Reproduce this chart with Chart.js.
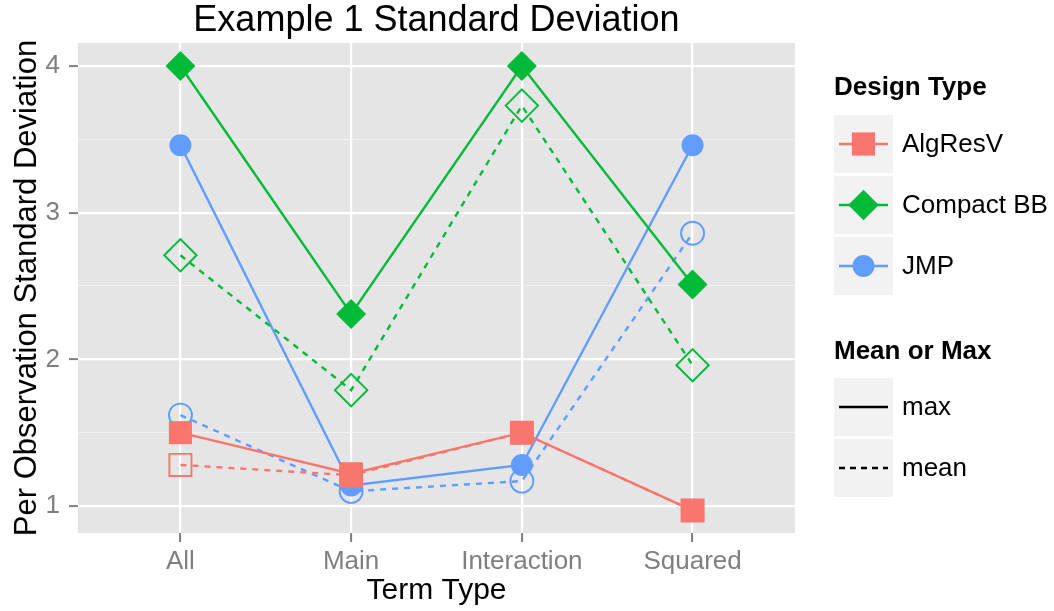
<!DOCTYPE html>
<html>
<head>
<meta charset="utf-8">
<title>Example 1 Standard Deviation</title>
<script src="https://cdn.jsdelivr.net/npm/chart.js@4.4.1/dist/chart.umd.min.js"></script>
<style>
  html, body { margin: 0; padding: 0; background: #ffffff; }
  #wrap { width: 1054px; height: 611px; }
</style>
</head>
<body>
<div id="wrap"><canvas id="chart" width="1054" height="611"></canvas></div>
<script>
const termTypes = ["All", "Main", "Interaction", "Squared"];
const yTicks = [1, 1.5, 2, 2.5, 3, 3.5, 4];

const algResVMax = [1.50, 1.22, 1.50, 0.97];
const algResVMean = [1.28, 1.21, 1.50, 0.97];
const compactBBMax = [4.00, 2.31, 4.00, 2.51];
const compactBBMean = [2.71, 1.79, 3.73, 1.96];
const jmpMax = [3.46, 1.14, 1.28, 3.46];
const jmpMean = [1.62, 1.10, 1.17, 2.86];

const FONT = "'Liberation Sans', Arial, Helvetica, sans-serif";
const GREY = "#7F7F7F";

// name, colour, point style, filled radius, hollow radius, max values, mean values
const designs = [
  { name: "AlgResV", color: "#F8766D", style: "rect", r: 16.3, rHollow: 15.6, max: algResVMax, mean: algResVMean },
  { name: "Compact BB", color: "#00BA38", style: "rectRot", r: 15, rHollow: 16.2, max: compactBBMax, mean: compactBBMean },
  { name: "JMP", color: "#619CFF", style: "circle", r: 11, rHollow: 11.5, max: jmpMax, mean: jmpMean },
];

const toXY = (vals) => vals.map((v, i) => ({ x: i, y: v }));

const datasets = [];
// points first so they are drawn over every line (like ggplot)
designs.forEach((d) => {
  datasets.push({
    label: d.name + " max", data: toXY(d.max), showLine: false, order: 0,
    pointStyle: d.style, pointRadius: d.r, pointBackgroundColor: d.color,
    pointBorderColor: d.color, pointBorderWidth: 0,
  });
  datasets.push({
    label: d.name + " mean", data: toXY(d.mean), showLine: false, order: 0,
    pointStyle: d.style, pointRadius: d.rHollow, pointBackgroundColor: "rgba(0,0,0,0)",
    pointBorderColor: d.color, pointBorderWidth: 1.9,
  });
});
designs.forEach((d) => {
  datasets.push({
    label: d.name + " max line", data: toXY(d.max), order: 1, pointRadius: 0,
    borderColor: d.color, borderWidth: 2.4, tension: 0, fill: false,
  });
  datasets.push({
    label: d.name + " mean line", data: toXY(d.mean), order: 1, pointRadius: 0,
    borderColor: d.color, borderWidth: 2.4, borderDash: [6, 6], tension: 0, fill: false,
  });
});

const panelBg = {
  id: "panelBg",
  beforeDraw(chart) {
    const { ctx, chartArea: a } = chart;
    ctx.save();
    ctx.fillStyle = "#E5E5E5";
    ctx.fillRect(a.left, a.top, a.right - a.left, a.bottom - a.top);
    ctx.restore();
  },
};

function drawShape(c, style, x, y, size, color) {
  c.fillStyle = color;
  c.beginPath();
  if (style === "rect") {
    c.rect(x - size, y - size, size * 2, size * 2);
  } else if (style === "rectRot") {
    c.moveTo(x - size, y);
    c.lineTo(x, y - size);
    c.lineTo(x + size, y);
    c.lineTo(x, y + size);
    c.closePath();
  } else {
    c.arc(x, y, size, 0, Math.PI * 2);
  }
  c.fill();
}

const ggLegend = {
  id: "ggLegend",
  afterDraw(chart) {
    const c = chart.ctx;
    const keyX = 834, keyW = 59, keyH = 58, textX = 902;
    const shapeSize = { rect: 11.6, rectRot: 15.3, circle: 11 };
    c.save();
    c.textBaseline = "middle";
    c.textAlign = "left";

    c.fillStyle = "#000";
    c.font = "bold 26px " + FONT;
    c.fillText("Design Type", keyX, 88);
    designs.forEach((d, i) => {
      const top = 115 + i * 61;
      const cy = top + keyH / 2;
      c.fillStyle = "#F2F2F2";
      c.fillRect(keyX, top, keyW, keyH);
      c.strokeStyle = d.color;
      c.lineWidth = 2.4;
      c.beginPath();
      c.moveTo(keyX + 5, cy);
      c.lineTo(keyX + keyW - 5, cy);
      c.stroke();
      drawShape(c, d.style, keyX + keyW / 2, cy, shapeSize[d.style], d.color);
      c.fillStyle = "#000";
      c.font = "26px " + FONT;
      c.fillText(d.name, textX, cy + 1);
    });

    c.fillStyle = "#000";
    c.font = "bold 26px " + FONT;
    c.fillText("Mean or Max", keyX, 352);
    [["max", []], ["mean", [6, 5]]].forEach((m, i) => {
      const top = 378 + i * 61;
      const cy = top + keyH / 2;
      c.fillStyle = "#F2F2F2";
      c.fillRect(keyX, top, keyW, keyH);
      c.strokeStyle = "#000";
      c.lineWidth = 2.4;
      c.setLineDash(m[1]);
      c.beginPath();
      c.moveTo(keyX + 5, cy);
      c.lineTo(keyX + keyW - 5, cy);
      c.stroke();
      c.setLineDash([]);
      c.fillStyle = "#000";
      c.font = "26px " + FONT;
      c.fillText(m[0], textX, cy + 1);
    });
    c.restore();
  },
};

Chart.defaults.font.family = FONT;

const isMajor = (c) => !!(c.tick && Number.isInteger(c.tick.value));

new Chart(document.getElementById("chart").getContext("2d"), {
  type: "line",
  data: { datasets },
  plugins: [panelBg, ggLegend],
  options: {
    responsive: false,
    animation: false,
    events: [],
    layout: { padding: { top: 0, right: 259, bottom: 0, left: 0 } },
    plugins: {
      legend: { display: false },
      tooltip: { enabled: false },
      title: {
        display: true,
        text: "Example 1 Standard Deviation",
        fullSize: false,
        color: "#000",
        font: { size: 36, weight: "normal", lineHeight: 1 },
        padding: { top: 3, bottom: 4 },
      },
    },
    scales: {
      x: {
        type: "linear",
        min: -0.6,
        max: 3.6,
        afterBuildTicks: (s) => { s.ticks = termTypes.map((t, i) => ({ value: i })); },
        afterFit: (s) => { s.height = 78; },
        border: { display: false },
        grid: { color: "#FFFFFF", lineWidth: 2.2, tickColor: GREY, tickLength: 9, tickWidth: 2 },
        ticks: {
          autoSkip: false, maxRotation: 0, padding: 4, color: GREY,
          font: { size: 26 },
          callback: (v) => termTypes[v],
        },
        title: {
          display: true, text: "Term Type", color: "#000",
          font: { size: 30 }, padding: { top: 0, bottom: 2 },
        },
      },
      y: {
        min: 0.816,
        max: 4.157,
        afterBuildTicks: (s) => { s.ticks = yTicks.map((v) => ({ value: v })); },
        afterFit: (s) => { s.width = 78; },
        border: { display: false },
        grid: {
          color: (c) => (isMajor(c) ? "#FFFFFF" : "#F2F2F2"),
          lineWidth: (c) => (isMajor(c) ? 2.2 : 1.1),
          tickColor: (c) => (isMajor(c) ? GREY : "rgba(0,0,0,0)"),
          tickLength: 9,
          tickWidth: 2,
        },
        ticks: {
          autoSkip: false, padding: 9, color: GREY,
          font: { size: 26 },
          callback: (v) => (Number.isInteger(v) ? String(v) : ""),
        },
        title: {
          display: true, text: "Per Observation Standard Deviation", color: "#000",
          font: { size: 31 }, padding: { top: 9, bottom: 0 },
        },
      },
    },
  },
});
</script>
</body>
</html>
